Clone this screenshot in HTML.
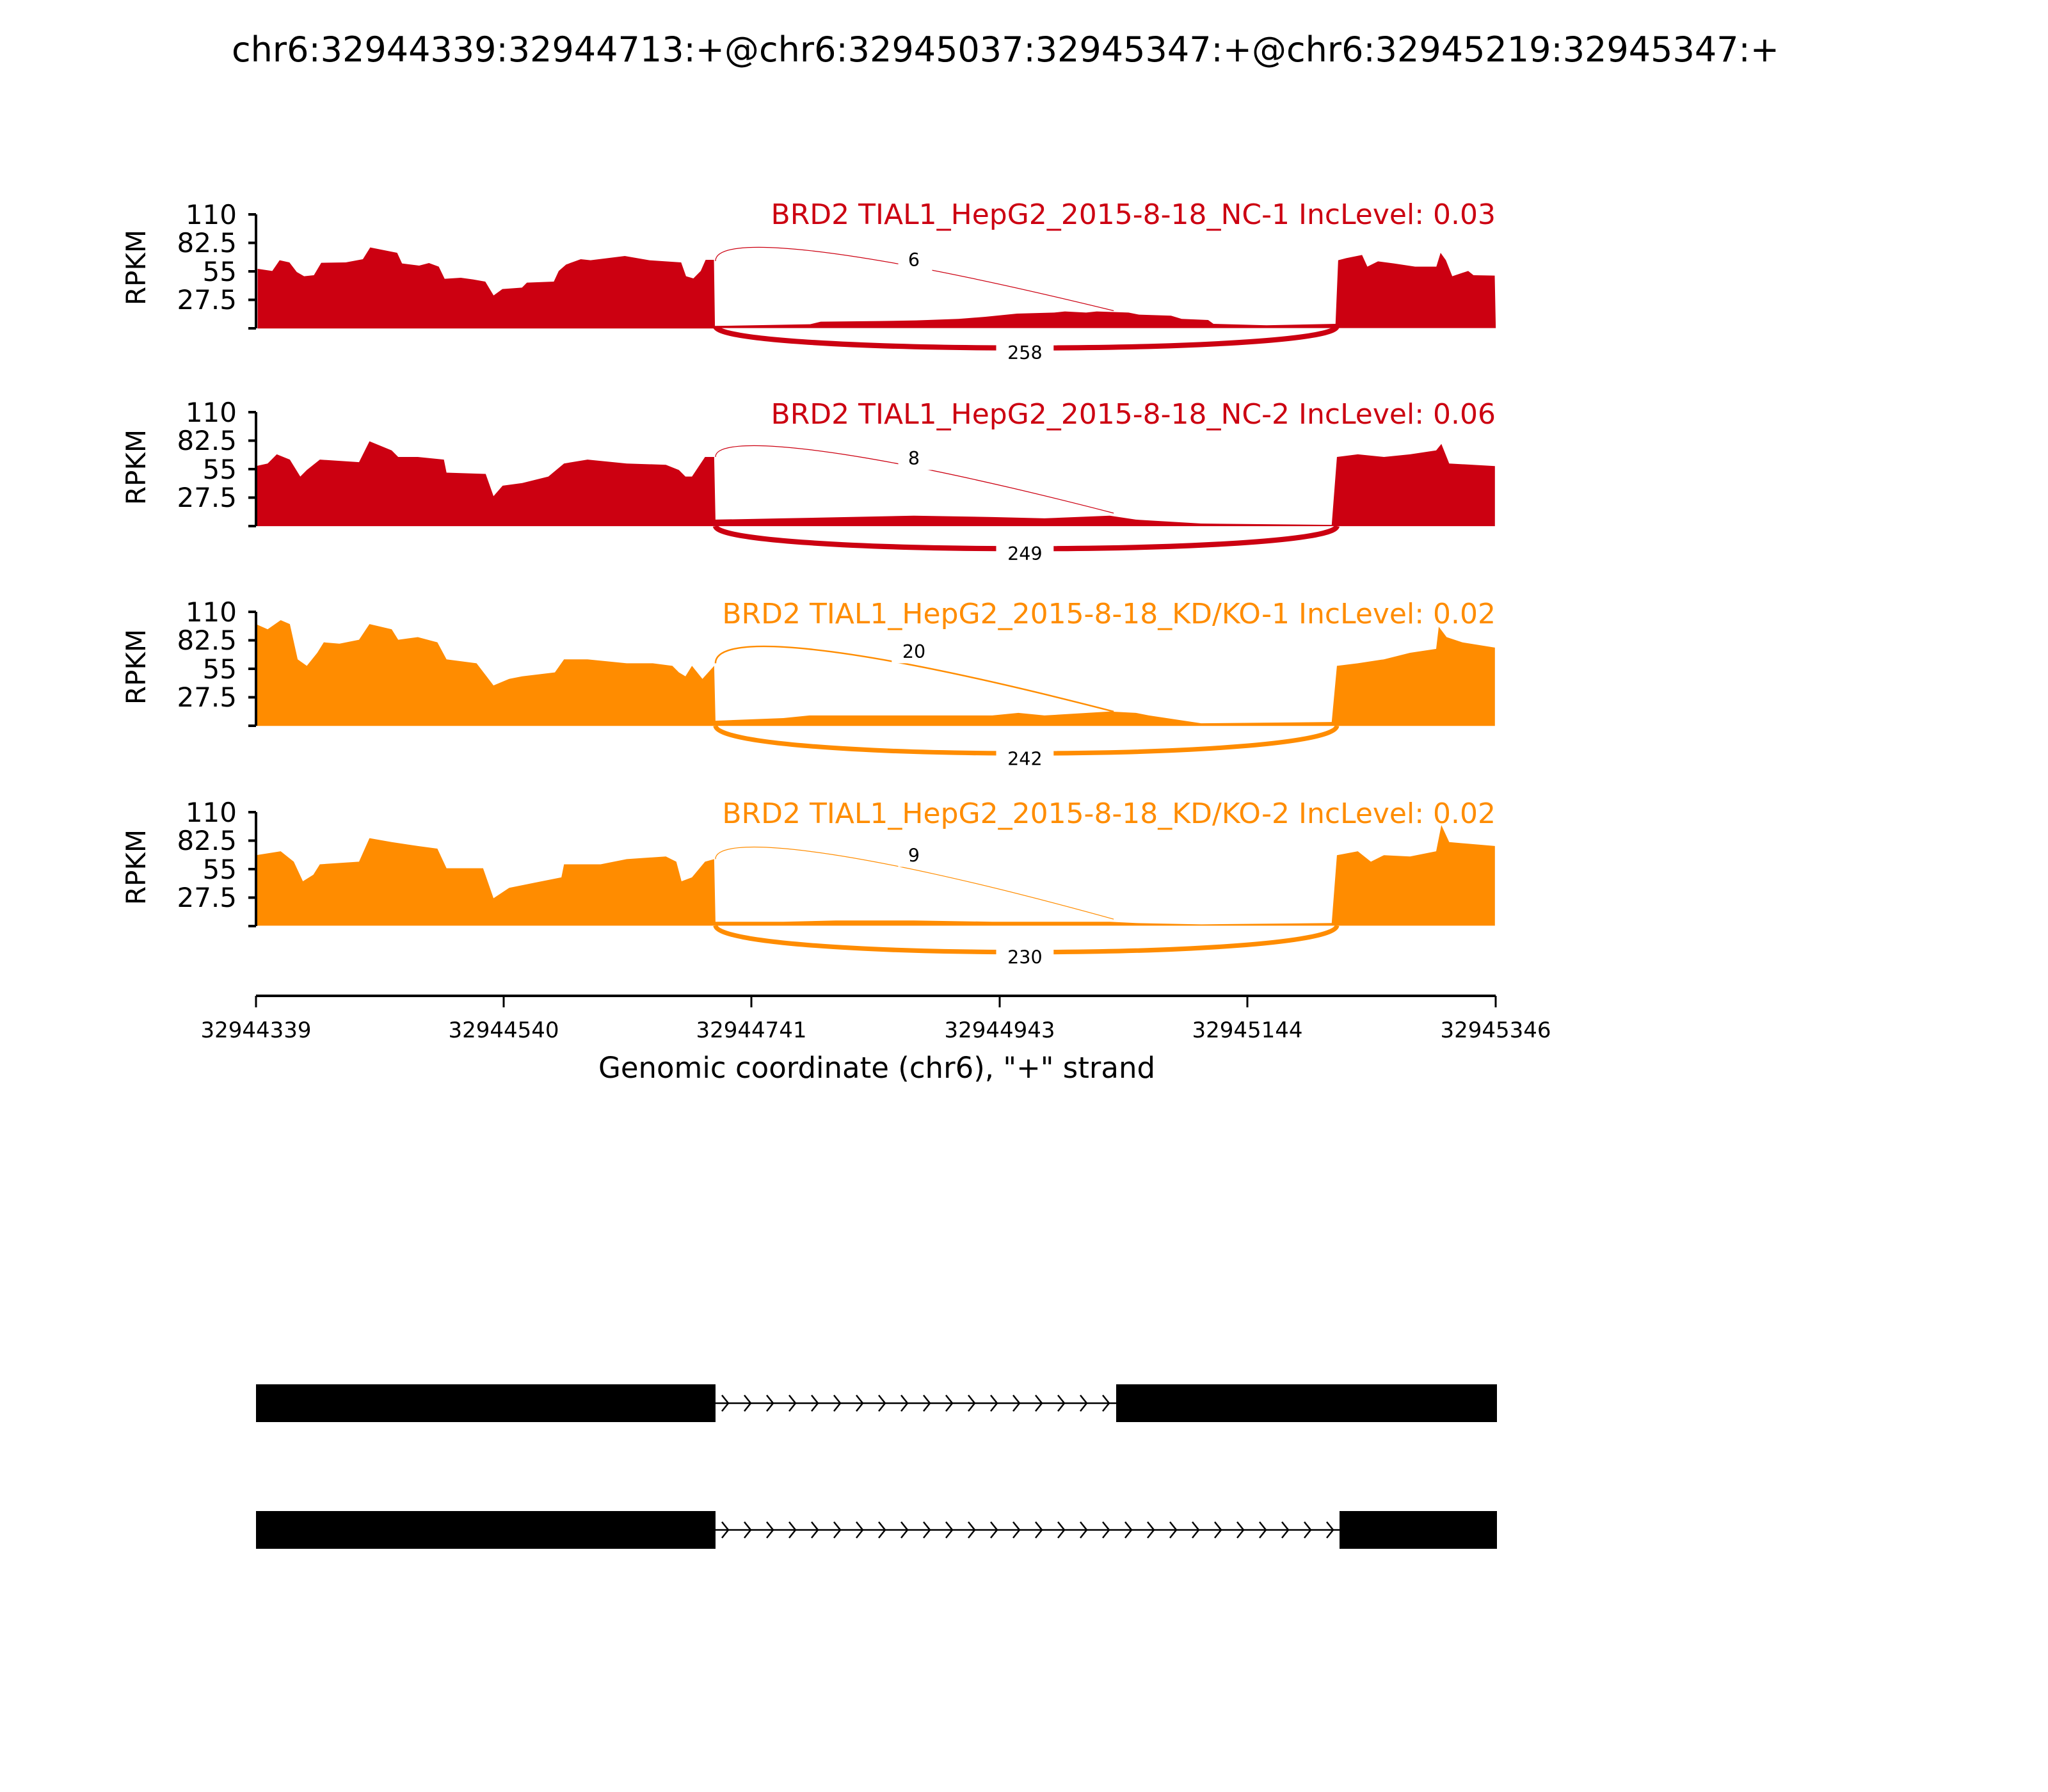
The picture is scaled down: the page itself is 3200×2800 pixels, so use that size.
<!DOCTYPE html>
<html><head><meta charset="utf-8"><style>html,body{margin:0;padding:0;background:#fff}svg{display:block}</style></head>
<body>
<svg xmlns="http://www.w3.org/2000/svg" width="3200" height="2800" viewBox="0 0 3200 2800" font-family="'DejaVu Sans','Liberation Sans',sans-serif">
<rect width="3200" height="2800" fill="#fff"/>
<text x="1571" y="96" font-size="54" text-anchor="middle">chr6:32944339:32944713:+@chr6:32945037:32945347:+@chr6:32945219:32945347:+</text>

<g fill="#cc0011" stroke="none">
<g transform="translate(150,280) scale(0.7651,0.3333)">
<polygon points="330,700 330,420 360,430 375,380 395,390 410,435 425,455 445,450 460,392 510,390 545,375 560,320 615,345 625,395 660,405 680,393 700,410 712,467 745,462 770,470 795,480 812,545 830,515 870,508 880,485 935,480 945,430 960,400 990,375 1010,380 1080,360 1130,380 1195,390 1205,455 1220,465 1235,430 1245,378 1262,378 1264,690 1264,700"/>
</g>
<g transform="translate(1100,280) scale(0.8292,0.3333)">
<polygon points="20,698 20,688 200,680 220,668 330,665 400,662 480,655 530,645 590,630 660,625 680,620 720,625 740,620 800,625 820,635 880,640 900,655 950,660 960,678 1060,685 1190,678 1195,380 1210,370 1240,355 1250,410 1270,385 1300,395 1340,410 1380,410 1388,345 1398,380 1410,455 1440,430 1450,450 1490,452 1492,698"/>
</g>
</g>

<g transform="scale(2.04)">
<polygon fill="#cc0011" points="196,403 196,357 205,355 212,348 222,352 230,365 235,360 245,352 275,354 283,338 300,345 305,350 320,350 340,352 342,362 372,363 378,380 385,372 400,370 420,365 432,355 450,352 480,355 510,356 520,360 525,365 530,365 540,350 547,350 548,398 600,397 700,395 760,396 800,397 850,395 870,398 920,401 1020,402 1024,350 1040,348 1060,350 1080,348 1100,345 1104,340 1110,355 1145,357 1145,403"/>
<polygon fill="#ff8c00" points="196,556 196,478 205,482 215,475 222,478 228,505 235,510 243,500 248,492 260,493 275,490 283,478 300,482 305,490 320,488 335,492 342,505 365,508 378,525 390,520 400,518 425,515 432,505 450,505 480,508 500,508 515,510 520,515 525,518 530,510 538,520 547,510 548,552 600,550 620,548 700,548 760,548 780,546 800,548 850,545 870,546 880,548 920,554 1020,553 1024,510 1040,508 1060,505 1080,500 1100,497 1102,480 1108,488 1120,492 1145,496 1145,556"/>
<polygon fill="#ff8c00" points="196,709 196,655 215,652 225,660 232,675 240,670 245,662 275,660 283,642 300,645 320,648 335,650 342,665 370,665 378,688 390,680 410,676 430,672 432,662 460,662 480,658 510,656 518,660 522,675 530,672 540,660 547,658 548,706 600,706 640,705 700,705 760,706 850,706 870,707 920,708 1020,707 1024,655 1040,652 1050,660 1060,655 1080,656 1100,652 1104,632 1110,645 1145,648 1145,709"/>

<g fill="none">
<path d="M548,200 C548,180 640,186 853,238" stroke="#cc0011" stroke-width="0.6"/>
<path d="M548,250 C552,272 1020,272 1024,250" stroke="#cc0011" stroke-width="4"/>
<path d="M548,350 C548,333 640,338 853,393" stroke="#cc0011" stroke-width="0.6"/>
<path d="M548,403 C552,426 1020,426 1024,403" stroke="#cc0011" stroke-width="4"/>
<path d="M548,508 C548,485 640,490 853,545" stroke="#ff8c00" stroke-width="1.2"/>
<path d="M548,556 C552,584 1020,584 1024,556" stroke="#ff8c00" stroke-width="3.5"/>
<path d="M548,658 C548,640 640,645 853,704" stroke="#ff8c00" stroke-width="0.6"/>
<path d="M548,709 C552,736 1020,736 1024,709" stroke="#ff8c00" stroke-width="3.5"/>
</g>
<g font-size="14" text-anchor="middle">
<rect x="688" y="190" width="26" height="18" fill="#fff"/><text x="700" y="204">6</text>
<rect x="763" y="261" width="44" height="18" fill="#fff"/><text x="785" y="275">258</text>
<rect x="688" y="342" width="26" height="18" fill="#fff"/><text x="700" y="356">8</text>
<rect x="763" y="415" width="44" height="18" fill="#fff"/><text x="785" y="429">249</text>
<rect x="683" y="490" width="36" height="18" fill="#fff"/><text x="700" y="504">20</text>
<rect x="763" y="572" width="44" height="18" fill="#fff"/><text x="785" y="586">242</text>
<rect x="688" y="646" width="26" height="18" fill="#fff"/><text x="700" y="660">9</text>
<rect x="763" y="724" width="44" height="18" fill="#fff"/><text x="785" y="738">230</text>
</g>
</g>

<g font-size="42" text-anchor="end">
<g stroke="#000" stroke-width="4">
<path d="M400,335V513 M388,335H400 M388,379.5H400 M388,424H400 M388,468.5H400 M388,513H400"/>
<path d="M400,644V822 M388,644H400 M388,688.5H400 M388,733H400 M388,777.5H400 M388,822H400"/>
<path d="M400,956V1134 M388,956H400 M388,1000.5H400 M388,1045H400 M388,1089.5H400 M388,1134H400"/>
<path d="M400,1269V1447 M388,1269H400 M388,1313.5H400 M388,1358H400 M388,1402.5H400 M388,1447H400"/>
</g>
<text x="370" y="350">110</text><text x="370" y="394">82.5</text><text x="370" y="439">55</text><text x="370" y="483">27.5</text>
<text x="370" y="659">110</text><text x="370" y="703">82.5</text><text x="370" y="748">55</text><text x="370" y="792">27.5</text>
<text x="370" y="971">110</text><text x="370" y="1015">82.5</text><text x="370" y="1060">55</text><text x="370" y="1104">27.5</text>
<text x="370" y="1284">110</text><text x="370" y="1328">82.5</text><text x="370" y="1373">55</text><text x="370" y="1417">27.5</text>
</g>
<g font-size="42" text-anchor="middle">
<text transform="translate(227,418) rotate(-90)">RPKM</text>
<text transform="translate(227,730) rotate(-90)">RPKM</text>
<text transform="translate(227,1042) rotate(-90)">RPKM</text>
<text transform="translate(227,1355) rotate(-90)">RPKM</text>
</g>
<g font-size="44" text-anchor="end">
<text x="2337" y="350" fill="#cc0011">BRD2 TIAL1_HepG2_2015-8-18_NC-1 IncLevel: 0.03</text>
<text x="2337" y="662" fill="#cc0011">BRD2 TIAL1_HepG2_2015-8-18_NC-2 IncLevel: 0.06</text>
<text x="2337" y="974" fill="#ff8c00">BRD2 TIAL1_HepG2_2015-8-18_KD/KO-1 IncLevel: 0.02</text>
<text x="2337" y="1286" fill="#ff8c00">BRD2 TIAL1_HepG2_2015-8-18_KD/KO-2 IncLevel: 0.02</text>
</g>

<g stroke="#000" stroke-width="4">
<path d="M400,1556H2337"/>
<path d="M400,1556v18 M787,1556v18 M1174,1556v18 M1562,1556v18 M1949,1556v18 M2337,1556v18" stroke-width="3"/>
</g>
<g font-size="34" text-anchor="middle">
<text x="400" y="1621">32944339</text><text x="787" y="1621">32944540</text><text x="1174" y="1621">32944741</text>
<text x="1562" y="1621">32944943</text><text x="1949" y="1621">32945144</text><text x="2337" y="1621">32945346</text>
</g>
<text x="1370" y="1684" font-size="45" text-anchor="middle">Genomic coordinate (chr6), "+" strand</text>

<g fill="#000">
<rect x="400" y="2163" width="718" height="59"/><rect x="1744" y="2163" width="595" height="59"/>
<rect x="400" y="2361" width="718" height="59"/><rect x="2093" y="2361" width="246" height="59"/>
</g>
<g stroke="#000" stroke-width="2.5" fill="none">
<path d="M1118,2192.5H1744"/>
<path d="M1118,2390.5H2093"/>
<path d="M1128,2180l10,12.5l-10,12.5 M1163,2180l10,12.5l-10,12.5 M1198,2180l10,12.5l-10,12.5 M1233,2180l10,12.5l-10,12.5 M1268,2180l10,12.5l-10,12.5 M1303,2180l10,12.5l-10,12.5 M1338,2180l10,12.5l-10,12.5 M1373,2180l10,12.5l-10,12.5 M1408,2180l10,12.5l-10,12.5 M1443,2180l10,12.5l-10,12.5 M1478,2180l10,12.5l-10,12.5 M1513,2180l10,12.5l-10,12.5 M1548,2180l10,12.5l-10,12.5 M1583,2180l10,12.5l-10,12.5 M1618,2180l10,12.5l-10,12.5 M1653,2180l10,12.5l-10,12.5 M1688,2180l10,12.5l-10,12.5 M1723,2180l10,12.5l-10,12.5"/>
<path d="M1128,2378l10,12.5l-10,12.5 M1163,2378l10,12.5l-10,12.5 M1198,2378l10,12.5l-10,12.5 M1233,2378l10,12.5l-10,12.5 M1268,2378l10,12.5l-10,12.5 M1303,2378l10,12.5l-10,12.5 M1338,2378l10,12.5l-10,12.5 M1373,2378l10,12.5l-10,12.5 M1408,2378l10,12.5l-10,12.5 M1443,2378l10,12.5l-10,12.5 M1478,2378l10,12.5l-10,12.5 M1513,2378l10,12.5l-10,12.5 M1548,2378l10,12.5l-10,12.5 M1583,2378l10,12.5l-10,12.5 M1618,2378l10,12.5l-10,12.5 M1653,2378l10,12.5l-10,12.5 M1688,2378l10,12.5l-10,12.5 M1723,2378l10,12.5l-10,12.5 M1758,2378l10,12.5l-10,12.5 M1793,2378l10,12.5l-10,12.5 M1828,2378l10,12.5l-10,12.5 M1863,2378l10,12.5l-10,12.5 M1898,2378l10,12.5l-10,12.5 M1933,2378l10,12.5l-10,12.5 M1968,2378l10,12.5l-10,12.5 M2003,2378l10,12.5l-10,12.5 M2038,2378l10,12.5l-10,12.5 M2073,2378l10,12.5l-10,12.5"/>
</g>
</svg>
</body></html>
